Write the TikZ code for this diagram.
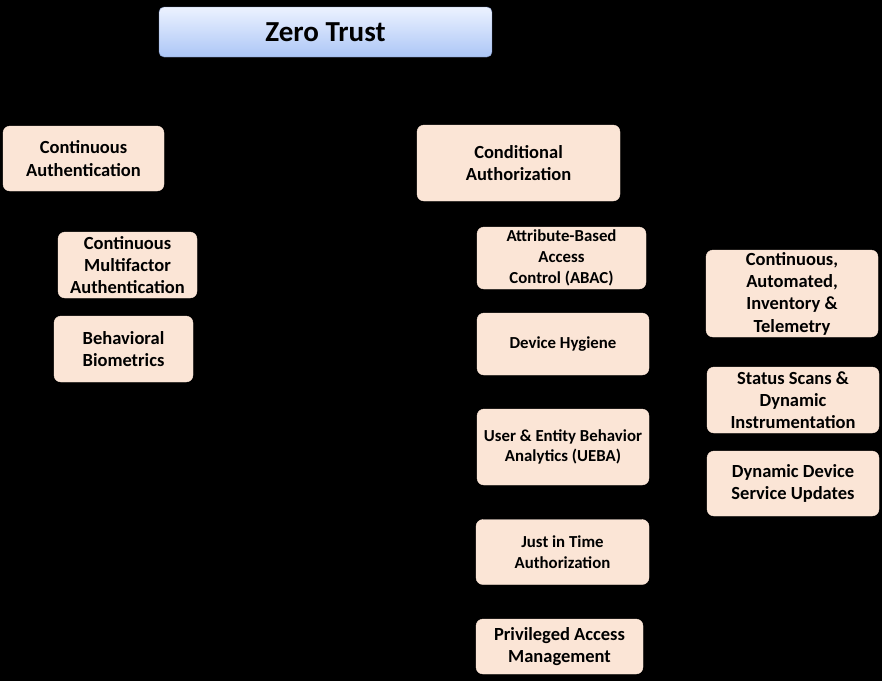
\documentclass[tikz,border=0pt]{standalone}
\usepackage{fontspec}
\setmainfont{Carlito}
\usetikzlibrary{positioning}
\definecolor{peach}{RGB}{251,229,214}
\definecolor{ztTop}{RGB}{236,242,255}
\definecolor{ztBottom}{RGB}{172,198,246}
\definecolor{ztBorder}{RGB}{120,140,185}

\tikzset{
  box/.style={draw=peach, fill=peach, rounded corners=7pt, align=center,
    font=\bfseries\fontsize{18.5}{22.3}\selectfont, inner sep=0pt},
  smallbox/.style={box, font=\bfseries\fontsize{16.8}{20.8}\selectfont},
  title/.style={draw=ztBorder, top color=ztTop, bottom color=ztBottom,
    rounded corners=5pt, font=\bfseries\fontsize{29}{32}\selectfont, inner sep=0pt},
}

\begin{document}
\begin{tikzpicture}[x=1pt, y=-1pt]
    \fill[black] (0,0) rectangle (882,681);
    \useasboundingbox (0,0) rectangle (882,681);

    % top
    \node[title, minimum width=333pt, minimum height=50pt] (zt) at (325.5,32) {Zero Trust};

    % authentication branch
    \node[box, minimum width=161pt, minimum height=65pt] (contauth) at (83.5,158.5) {Continuous\\Authentication};
    \node[box, minimum width=139pt, minimum height=66pt] (mfa) at (127.5,265) {Continuous\\Multifactor\\Authentication};
    \node[box, minimum width=139pt, minimum height=66pt] (biom) at (123.5,349) {Behavioral\\Biometrics};

    % authorization branch
    \node[box, minimum width=203pt, minimum height=76pt] (condauth) at (518.5,163) {Conditional\\Authorization};
    \node[smallbox, minimum width=169pt, minimum height=62pt] (abac) at (561.5,258) {Attribute-Based\\Access\\Control (ABAC)};
    \node[smallbox, minimum width=172pt, minimum height=62pt] (hygiene) at (563,344) {Device Hygiene};
    \node[smallbox, minimum width=172pt, minimum height=76pt] (ueba) at (563,447) {User \& Entity Behavior\\Analytics (UEBA)};
    \node[smallbox, minimum width=173pt, minimum height=65pt] (jit) at (562.5,552) {Just in Time\\Authorization};
    \node[box, minimum width=167pt, minimum height=55pt] (pam) at (559.5,646.5) {Privileged Access\\Management};

    % device hygiene details
    \node[box, minimum width=172pt, minimum height=87pt] (inventory) at (792,293.5) {Continuous,\\Automated,\\Inventory \&\\Telemetry};
    \node[box, minimum width=172pt, minimum height=66pt] (scans) at (793,400) {Status Scans \&\\Dynamic\\Instrumentation};
    \node[box, minimum width=172pt, minimum height=65pt] (updates) at (793,483.5) {Dynamic Device\\Service Updates};
\end{tikzpicture}
\end{document}
